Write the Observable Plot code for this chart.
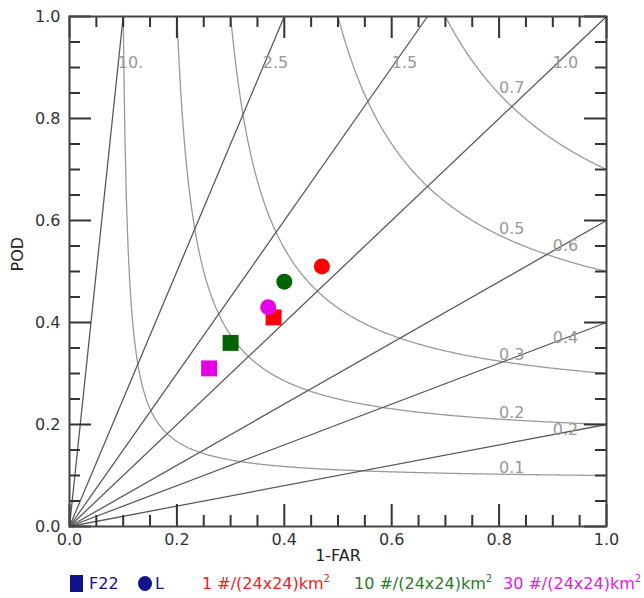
<!DOCTYPE html>
<html><head><meta charset="utf-8">
<script src="https://cdn.jsdelivr.net/npm/d3@7"></script>
<script src="https://cdn.jsdelivr.net/npm/@observablehq/plot@0.6"></script>
<style>
body{margin:0;background:#fff;font-family:"DejaVu Sans",sans-serif;}
#wrap{position:relative;width:644px;}
#legend{position:relative;height:32px;font-size:16px;}
#legend span{position:absolute;white-space:nowrap;line-height:20px;}
</style></head><body>
<div id="wrap"><div id="chart"></div><div id="legend"></div></div>
<script>
// Performance diagram reference lines
const biasValues = [10, 2.5, 1.5, 1.0, 0.6, 0.4, 0.2];
const biasLabels = ["10.", "2.5", "1.5", "1.0", "0.6", "0.4", "0.2"];
const csiValues = [0.1, 0.2, 0.3, 0.5, 0.7];
const csiLabels = ["0.1", "0.2", "0.3", "0.5", "0.7"];
// Forecast points
const thresholds = ["1 #/(24x24)km<sup>2</sup>", "10 #/(24x24)km<sup>2</sup>", "30 #/(24x24)km<sup>2</sup>"];
const thresholdColors = ["#ff0000", "#006400", "#e600e6"];
const legendTextColors = ["#ee2222", "#2a7a2a", "#e020e0"];
const f22SuccessRatio = [0.38, 0.30, 0.26];
const f22POD = [0.41, 0.36, 0.31];
const lSuccessRatio = [0.47, 0.40, 0.37];
const lPOD = [0.51, 0.48, 0.43];
// Axis ticks
const majorTicks = [0, 0.2, 0.4, 0.6, 0.8, 1.0];
const minorTicks = [0.05, 0.1, 0.15, 0.25, 0.3, 0.35, 0.45, 0.5, 0.55, 0.65, 0.7, 0.75, 0.85, 0.9, 0.95];

const W = 644, H = 566;
const mL = 69, mR = 38, mT = 16, mB = 40;
const fw = W - mL - mR, fh = H - mT - mB;
const majLen = 22, minLen = 11;

const biasLines = biasValues.flatMap(b => [
  {sr: 0, pod: 0, b},
  {sr: Math.min(1, 1 / b), pod: Math.min(1, b), b}
]);
const csiCurves = csiValues.flatMap(c => d3.range(0, 301).map(i => {
  const sr = c + (1 - c) * i / 300;
  return {sr, pod: 1 / (1 / c + 1 - 1 / sr), c};
}));
const labelAt = 0.9, csiLabelAt = 0.8;
const biasLabelRows = biasValues.map((b, i) => ({
  sr: b >= 1 ? labelAt / b : labelAt,
  pod: b >= 1 ? labelAt : labelAt * b,
  text: biasLabels[i]
}));
const csiLabelRows = csiValues.map((c, i) => ({
  sr: csiLabelAt,
  pod: 1 / (1 / c + 1 - 1 / csiLabelAt),
  text: csiLabels[i]
}));
const squares = thresholds.map((t, i) => ({sr: f22SuccessRatio[i], pod: f22POD[i], t}));
const circles = thresholds.map((t, i) => ({sr: lSuccessRatio[i], pod: lPOD[i], t}));

const tickStyle = {stroke: "#333", strokeWidth: 2};
const chart = Plot.plot({
  width: W, height: H,
  marginLeft: mL, marginRight: mR, marginTop: mT, marginBottom: mB,
  style: {fontFamily: "DejaVu Sans, sans-serif", fontSize: "16px", background: "#fff"},
  x: {domain: [0, 1]},
  y: {domain: [0, 1]},
  color: {domain: thresholds, range: thresholdColors},
  marks: [
    Plot.line(csiCurves, {x: "sr", y: "pod", z: "c", stroke: "#9a9a9a", strokeWidth: 1.3}),
    Plot.line(biasLines, {x: "sr", y: "pod", z: "b", stroke: "#5a5a5a", strokeWidth: 1.3}),
    Plot.text(biasLabelRows, {x: "sr", y: "pod", text: "text", textAnchor: "start", dy: -5, fill: "#999", fontSize: 16}),
    Plot.text(csiLabelRows, {x: "sr", y: "pod", text: "text", textAnchor: "start", dy: -6, fill: "#999", fontSize: 16}),
    Plot.dot(squares, {x: "sr", y: "pod", fill: "t", symbol: "square", r: 9}),
    Plot.dot(circles, {x: "sr", y: "pod", fill: "t", symbol: "circle", r: 8}),
    // inward ticks, four sides
    Plot.tickX(majorTicks, {x: d => d, insetTop: fh - majLen, ...tickStyle}),
    Plot.tickX(minorTicks, {x: d => d, insetTop: fh - minLen, ...tickStyle}),
    Plot.tickX(majorTicks, {x: d => d, insetBottom: fh - majLen, ...tickStyle}),
    Plot.tickX(minorTicks, {x: d => d, insetBottom: fh - minLen, ...tickStyle}),
    Plot.tickY(majorTicks, {y: d => d, insetRight: fw - majLen, ...tickStyle}),
    Plot.tickY(minorTicks, {y: d => d, insetRight: fw - minLen, ...tickStyle}),
    Plot.tickY(majorTicks, {y: d => d, insetLeft: fw - majLen, ...tickStyle}),
    Plot.tickY(minorTicks, {y: d => d, insetLeft: fw - minLen, ...tickStyle}),
    Plot.frame({stroke: "#444", strokeWidth: 2}),
    Plot.axisX({ticks: majorTicks, tickSize: 0, tickPadding: 7, tickFormat: d3.format(".1f"), label: null, fontSize: 16, color: "#333"}),
    Plot.axisY({ticks: majorTicks, tickSize: 0, tickPadding: 9, tickFormat: d3.format(".1f"), label: null, fontSize: 16, color: "#333"}),
    Plot.text(["1-FAR"], {frameAnchor: "bottom", dy: 34, fill: "#222", fontSize: 16}),
    Plot.text(["POD"], {frameAnchor: "left", dx: -52, rotate: -90, fill: "#222", fontSize: 16})
  ]
});
document.getElementById("chart").appendChild(chart);

// Legend (HTML, below the SVG)
const lg = document.getElementById("legend");
function add(html, left, color, extra) {
  const s = document.createElement("span");
  s.innerHTML = html;
  s.style.left = left + "px";
  s.style.top = "8px";
  s.style.color = color;
  if (extra) Object.assign(s.style, extra);
  lg.appendChild(s);
}
const navy = "#12128a";
add("", 70, navy, {width: "13px", height: "17px", background: navy, top: "9px"});
add("F22", 89, navy);
add("", 138, navy, {width: "14px", height: "15px", background: navy, borderRadius: "50%", top: "10px"});
add("L", 155, navy);
const legendLeft = [202, 354, 503];
const style = document.createElement("style");
style.textContent = "#legend sup{font-size:10px;vertical-align:7px;line-height:0;}";
document.head.appendChild(style);
thresholds.forEach((t, i) => add(t, legendLeft[i], legendTextColors[i]));
</script>
</body></html>
